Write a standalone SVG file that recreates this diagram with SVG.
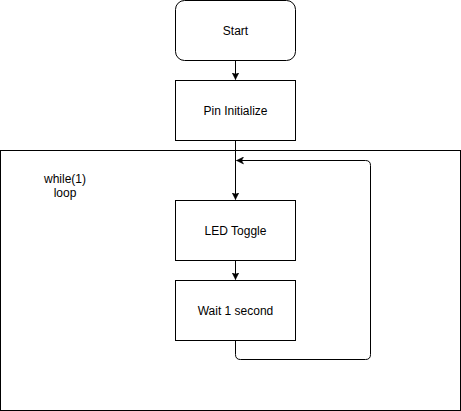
<svg xmlns="http://www.w3.org/2000/svg" width="461" height="411" viewBox="0 0 461 411">
<style>
.box{fill:#fff;stroke:#000;stroke-width:1}
.lbl{font-family:"Liberation Sans",Arial,sans-serif;font-size:12px;fill:#000;text-anchor:middle}
.edge{fill:none;stroke:#000;stroke-width:1}
</style>
<defs>
<marker id="arr" markerWidth="8" markerHeight="8" refX="7" refY="4" orient="auto" markerUnits="userSpaceOnUse">
<path d="M0,0.5 L7,4 L0,7.5 L1.8,4 Z" fill="#000" stroke="#000" stroke-width="0.5"/>
</marker>
</defs>
<rect width="461" height="411" fill="#fff"/>
<g id="loop-container">
<rect class="box" x="0.5" y="150.5" width="460" height="260"/>
<text class="lbl" x="65" y="183">while(1)</text>
<text class="lbl" x="65" y="197">loop</text>
</g>
<g id="start">
<rect class="box" x="175.5" y="0.5" width="120" height="60" rx="9" ry="9"/>
<text class="lbl" x="235.5" y="35">Start</text>
</g>
<g id="pin-init">
<rect class="box" x="175.5" y="80.5" width="120" height="60"/>
<text class="lbl" x="235.5" y="115">Pin Initialize</text>
</g>
<g id="led-toggle">
<rect class="box" x="175.5" y="200.5" width="120" height="60"/>
<text class="lbl" x="235.5" y="235">LED Toggle</text>
</g>
<g id="wait">
<rect class="box" x="175.5" y="280.5" width="120" height="60"/>
<text class="lbl" x="235.5" y="315">Wait 1 second</text>
</g>
<g id="connectors">
<path class="edge" d="M235.5,60.5 L235.5,79.5" marker-end="url(#arr)"/>
<path class="edge" d="M235.5,140.5 L235.5,199.5" marker-end="url(#arr)"/>
<path class="edge" d="M235.5,260.5 L235.5,279.5" marker-end="url(#arr)"/>
<path class="edge" d="M235.5,340.5 L235.5,354.5 Q235.5,359.5 240.5,359.5 L365.5,359.5 Q370.5,359.5 370.5,354.5 L370.5,165.5 Q370.5,160.5 365.5,160.5 L236.5,160.5" marker-end="url(#arr)"/>
</g>
</svg>
